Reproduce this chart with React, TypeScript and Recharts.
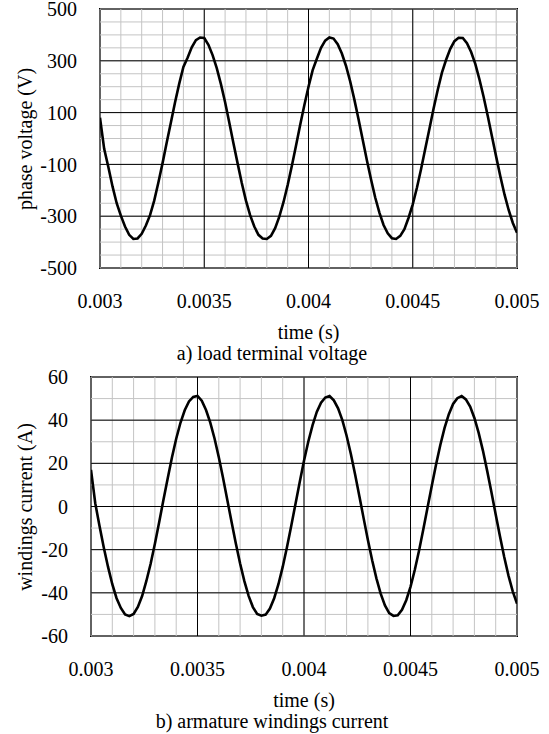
import { LineChart, Line, XAxis, YAxis, ReferenceLine, ReferenceArea } from 'recharts';

const FONT = 'Liberation Serif';

// samples every 0.00002 s from 0.003 s to 0.005 s
const T0 = 0.003;
const DT = 0.00002;

const voltage = [
  80, -40, -110, -185, -250, -298, -340, -372, -388, -386,
  -368, -336, -296, -240, -170, -95, -15, 62, 140, 212,
  276, 312, 352, 380, 390, 388, 362, 322, 272, 210,
  140, 62, -18, -96, -172, -240, -296, -340, -372, -386,
  -388, -376, -346, -302, -246, -180, -106, -28, 52, 128,
  200, 264, 308, 350, 378, 390, 386, 364, 328, 280,
  220, 150, 74, -5, -84, -158, -228, -286, -334, -366,
  -385, -388, -376, -350, -306, -254, -190, -118, -40, 38,
  116, 188, 254, 304, 346, 376, 389, 388, 368, 334,
  288, 228, 160, 86, 8, -70, -146, -216, -276, -326,
  -364,
];

const current = [
  17, 1.5, -9, -19, -28, -36, -42.5, -47, -50, -50.8,
  -49.8, -46.5, -41.5, -34.5, -26.5, -17.3, -7.3, 3, 13, 22.7,
  31.4, 38.8, 44.6, 48.7, 50.8, 51.2, 49, 44.7, 38.9, 31.5,
  22.8, 13.2, 3, -7.2, -17.2, -26.4, -34.6, -41.4, -46.6, -49.8,
  -50.6, -50.1, -47.3, -42.5, -36, -28, -18.9, -9, 1.2, 11.4,
  21.2, 30, 37.6, 43.8, 48.1, 50.5, 51.2, 49.2, 45.5, 40,
  32.8, 24.3, 14.8, 4.8, -5.5, -15.5, -24.9, -33.3, -40.4, -45.8,
  -49.4, -50.7, -50.4, -47.9, -43.4, -37.2, -29.4, -20.5, -10.7, -0.5,
  9.6, 19.5, 28.5, 36.4, 42.8, 47.5, 50.2, 51.2, 49.6, 46.3,
  41, 34.1, 25.9, 16.5, 6.6, -3.7, -13.8, -23.4, -32, -39.3,
  -45,
];

const xTicks = [0.003, 0.0035, 0.004, 0.0045, 0.005];
const vTicks = [-500, -300, -100, 100, 300, 500];
const iTicks = [-60, -40, -20, 0, 20, 40, 60];

const xMinor = Array.from({ length: 21 }, (_, i) => +(T0 + i * 0.0001).toFixed(4));
const vMinor = Array.from({ length: 21 }, (_, i) => -500 + i * 50);
const iMinor = Array.from({ length: 13 }, (_, i) => -60 + i * 10);

const toRows = (values: number[]) =>
  values.map((v, i) => ({ t: +(T0 + i * DT).toFixed(5), v }));

const FS = 20;
const tickStyle = { fill: '#000', fontSize: FS, fontFamily: FONT };
const textStyle: React.CSSProperties = {
  position: 'absolute',
  fontFamily: FONT,
  fontSize: FS,
  lineHeight: '20px',
  color: '#000',
  whiteSpace: 'nowrap',
};

type PanelProps = {
  values: number[];
  yTicks: number[];
  yMinor: number[];
  yAxisWidth: number;
  plotTop: number;
  yLabel: string;
  caption: string;
};

const MT = 20; // room above the plot for the top tick label

function Panel({ values, yTicks, yMinor, yAxisWidth, plotTop, yLabel, caption }: PanelProps) {
  const yMin = yTicks[0];
  const yMax = yTicks[yTicks.length - 1];
  const plotH = 259;
  const plotLeft = yAxisWidth;
  const plotRight = 517;
  const top = plotTop - MT;
  return (
    <>
      <div style={{ position: 'absolute', left: 0, top, width: 549, height: MT + plotH + 77 }}>
        <LineChart
          width={549}
          height={MT + plotH + 77}
          data={toRows(values)}
          margin={{ top: MT, right: 32, left: 0, bottom: 0 }}
          style={{ fontFamily: FONT }}
        >
          <XAxis
            type="number"
            dataKey="t"
            domain={[0.003, 0.005]}
            ticks={xTicks}
            interval={0}
            allowDataOverflow
            tickFormatter={(v) => String(v)}
            tickLine={false}
            axisLine={false}
            tickSize={0}
            tickMargin={26}
            height={77}
            tick={tickStyle}
          />
          <YAxis
            type="number"
            domain={[yMin, yMax]}
            ticks={yTicks}
            interval={0}
            allowDataOverflow
            width={yAxisWidth}
            tickLine={false}
            axisLine={false}
            tickSize={0}
            tickMargin={23}
            tick={tickStyle}
          />
          {xMinor.map((x) => (
            <ReferenceLine key={'mx' + x} x={x} stroke="#c4c4c4" strokeWidth={1} />
          ))}
          {yMinor.map((y) => (
            <ReferenceLine key={'my' + y} y={y} stroke="#c4c4c4" strokeWidth={1} />
          ))}
          {xTicks.slice(1, -1).map((x) => (
            <ReferenceLine key={'x' + x} x={x} stroke="#000" strokeWidth={1} />
          ))}
          {yTicks.slice(1, -1).map((y) => (
            <ReferenceLine key={'y' + y} y={y} stroke="#000" strokeWidth={1} />
          ))}
          <ReferenceArea x1={0.003} x2={0.005} y1={yMin} y2={yMax} fill="none" stroke="#000" strokeWidth={2} />
          <Line dataKey="v" type="linear" stroke="#000" strokeWidth={2.6} dot={false} isAnimationActive={false} />
        </LineChart>
      </div>
      <div
        style={{
          ...textStyle,
          left: 25,
          top: plotTop + plotH / 2,
          transform: 'translate(-50%, -50%) rotate(-90deg)',
        }}
      >
        {yLabel}
      </div>
      <div style={{ ...textStyle, left: (plotLeft + plotRight) / 2, top: plotTop + 313, transform: 'translateX(-50%)' }}>
        time (s)
      </div>
      <div style={{ ...textStyle, left: 272, top: plotTop + 334, transform: 'translateX(-50%)' }}>
        {caption}
      </div>
    </>
  );
}

export default function App() {
  return (
    <div style={{ position: 'absolute', left: 0, top: 0, width: 549, height: 734, background: '#fff', overflow: 'hidden' }}>
      <Panel
        values={voltage}
        yTicks={vTicks}
        yMinor={vMinor}
        yAxisWidth={100}
        plotTop={9}
        yLabel="phase voltage (V)"
        caption="a) load terminal voltage"
      />
      <Panel
        values={current}
        yTicks={iTicks}
        yMinor={iMinor}
        yAxisWidth={91}
        plotTop={377}
        yLabel="windings current (A)"
        caption="b) armature windings current"
      />
    </div>
  );
}
